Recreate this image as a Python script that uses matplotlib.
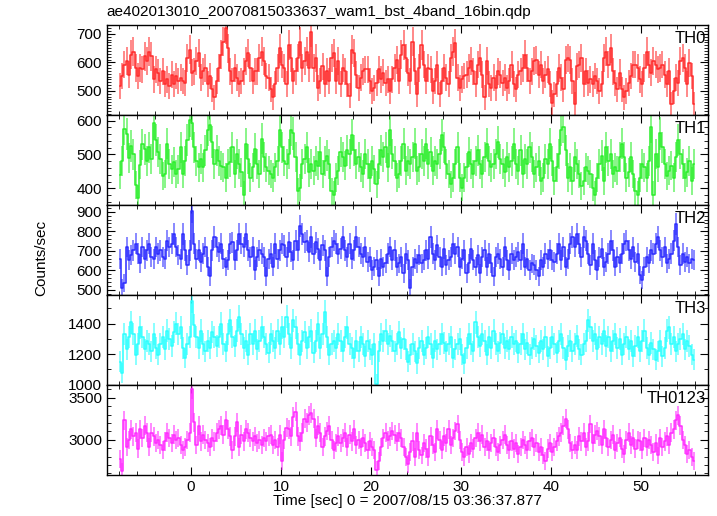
import numpy as np
import matplotlib.pyplot as plt
from matplotlib.ticker import MultipleLocator

plt.rcParams['font.family'] = ['Liberation Sans', 'DejaVu Sans']

# light curve, 0.25 s bins, time relative to 2007/08/15 03:36:37.877
bin_size = 0.25
t_start = -8.0

th0 = [517, 552, 592, 604, 557, 627, 638, 580, 552, 580,
       575, 621, 604, 638, 621, 540, 575, 563, 534, 569,
       523, 540, 517, 557, 523, 552, 534, 546, 534, 528,
       615, 644, 563, 569, 604, 633, 546, 569, 580, 523,
       552, 505, 477, 534, 580, 627, 673, 719, 650, 569,
       534, 580, 546, 523, 534, 569, 604, 633, 580, 534,
       569, 569, 615, 638, 604, 552, 546, 505, 477, 523,
       580, 650, 592, 580, 523, 661, 615, 534, 569, 615,
       673, 580, 604, 638, 580, 708, 580, 615, 511, 534,
       586, 523, 569, 534, 615, 633, 534, 604, 523, 580,
       569, 523, 482, 644, 633, 557, 511, 546, 569, 575,
       575, 534, 500, 511, 528, 575, 540, 563, 528, 540,
       500, 540, 580, 609, 534, 627, 661, 615, 563, 534,
       673, 569, 488, 580, 661, 592, 534, 580, 575, 500,
       534, 592, 488, 534, 580, 546, 523, 615, 638, 667,
       546, 511, 540, 552, 557, 580, 604, 569, 523, 592,
       615, 557, 477, 604, 523, 511, 546, 511, 569,
       557, 528, 546, 511, 534, 592, 523, 505, 557, 569,
       580, 627, 580, 534, 569, 604, 609, 557, 592, 534,
       557, 575, 523, 459, 488, 523, 580, 546, 505, 609,
       615, 609, 534, 453, 586, 592, 615, 523, 569, 528,
       540, 523, 552, 534, 500, 523, 615, 638, 592, 650,
       569, 528, 505, 563, 505, 477, 500, 528, 552, 592,
       592, 580, 540, 523, 580, 638, 592, 563, 604, 592,
       575, 580, 592, 557, 523, 569, 453, 500, 546, 528,
       604, 615, 580, 523, 598, 552, 453]

th1 = [440, 480, 575, 560, 490, 525, 500, 410, 372, 470, 530, 515,
       482, 522, 487, 592, 542, 507, 487, 437, 442, 532, 472, 457,
       477, 442, 457, 522, 442, 482, 542, 602,
       592, 522, 482, 462, 487, 462, 512, 572,
       587, 537, 472, 512, 482, 467, 462, 432,
       472, 477, 522, 442, 502, 472, 447, 382,
       532, 487, 432, 462, 517, 472, 442, 547,
       492, 462, 452, 442, 432, 462, 482, 572,
       522, 482, 472, 502, 572, 562, 492, 392,
       402, 472, 487, 522, 447, 472, 452, 482,
       467, 507, 442, 482, 497, 472, 392, 382,
       432, 452, 507, 492, 467, 512, 502, 557,
       512, 472, 492, 462, 442, 502, 472, 432,
       482, 457, 412, 472, 512, 492, 522, 462,
       572, 502, 482, 432, 442, 482, 532, 452,
       482, 472, 492, 532, 452, 462, 502, 482,
       532, 472, 507, 452, 482, 472, 502, 557,
       522, 472, 442, 412, 432, 472, 522, 432,
       402, 432, 462, 507, 472, 442, 482, 512,
       472, 442, 492, 532, 482, 462, 472, 502,
       537, 487, 472, 447, 492, 462, 482, 532,
       472, 452, 512, 442, 487, 472, 522, 492,
       442, 462, 482, 422, 432, 487, 472, 532,
       482, 422, 462, 502, 572, 582, 512, 432,
       462, 422, 492, 472, 442, 407, 422, 462,
       452, 442, 402, 382, 432, 472, 497, 422,
       522, 482, 502, 442, 462, 452, 492, 532,
       492, 432, 447, 492, 442, 392, 382, 432,
       472, 462, 432, 482, 582, 382, 502, 462,
       562, 522, 472, 437, 452, 467, 432, 492,
       542, 502, 472, 432, 447, 482, 422, 472]

th2 = [660, 509, 534, 719, 652, 677, 702, 736, 685, 635, 719, 660,
       702, 736, 668, 660, 719, 685, 702, 668, 660, 752, 719, 736,
       786, 719, 677, 660, 786, 702, 626, 702,
       904, 736, 660, 702, 643, 685, 719, 618,
       568, 702, 769, 719, 694, 736, 660, 618,
       652, 736, 744, 652, 702, 786, 736, 719,
       786, 702, 668, 719, 601, 668, 702, 685,
       668, 568, 660, 685, 618, 736, 660, 702,
       736, 727, 668, 744, 694, 652, 752, 702,
       828, 786, 744, 752, 694, 769, 685, 744,
       710, 652, 727, 702, 568, 668, 719, 752,
       736, 685, 710, 769, 702, 668, 736, 660,
       702, 769, 719, 685, 668, 719, 643, 668,
       601, 618, 652, 568, 660, 618, 635, 685,
       719, 652, 702, 618, 635, 668, 584, 685,
       652, 509, 618, 660, 635, 677, 635, 652,
       702, 660, 769, 685, 652, 727, 668, 618,
       710, 626, 652, 668, 736, 685, 719, 618,
       660, 702, 584, 635, 710, 652, 618, 677,
       584, 668, 702, 618, 685, 635, 568, 668,
       685, 660, 618, 719, 652, 601, 685, 652,
       668, 694, 652, 736, 618, 660, 601, 635,
       626, 601, 568, 652, 618, 685, 660, 702,
       652, 643, 685, 736, 652, 719, 618, 660,
       736, 769, 719, 786, 736, 668, 769, 752,
       685, 626, 736, 652, 601, 668, 710, 618,
       643, 685, 752, 702, 618, 668, 635, 685,
       736, 752, 702, 660, 719, 643, 685, 576,
       551, 618, 668, 635, 702, 685, 736, 769,
       702, 668, 719, 635, 660, 685, 752, 836,
       719, 626, 685, 643, 668, 635, 660, 652]

th3 = [1152, 1074, 1332, 1231, 1310, 1411, 1332, 1197, 1265, 1377, 1310, 1231,
       1287, 1265, 1220, 1332, 1242, 1197, 1265, 1310, 1231, 1355, 1299, 1254,
       1344, 1400, 1332, 1377, 1242, 1175, 1265, 1310,
       1546, 1389, 1310, 1242, 1355, 1265, 1220, 1287,
       1242, 1344, 1310, 1254, 1310, 1400, 1265, 1220,
       1332, 1422, 1310, 1254, 1355, 1445, 1332, 1242,
       1287, 1197, 1332, 1265, 1355, 1231, 1287, 1377,
       1310, 1265, 1209, 1332, 1287, 1242, 1355, 1265,
       1377, 1310, 1445, 1332, 1242, 1422, 1377, 1265,
       1197, 1287, 1344, 1242, 1310, 1355, 1209, 1287,
       1400, 1242, 1332, 1479, 1310, 1197, 1265, 1287,
       1242, 1332, 1287, 1220, 1310, 1377, 1265, 1242,
       1175, 1287, 1220, 1310, 1265, 1186, 1287, 1231,
       1197, 1265, 1006, 1220, 1332, 1287, 1355, 1265,
       1321, 1287, 1220, 1265, 1344, 1242, 1299, 1231,
       1152, 1197, 1265, 1220, 1141, 1242, 1287, 1197,
       1242, 1310, 1265, 1175, 1287, 1231, 1265, 1332,
       1276, 1220, 1265, 1310, 1175, 1231, 1265, 1299,
       1197, 1141, 1242, 1332, 1265, 1220, 1411, 1310,
       1254, 1332, 1287, 1197, 1310, 1242, 1355, 1265,
       1220, 1276, 1332, 1242, 1287, 1231, 1310, 1265,
       1287, 1209, 1265, 1332, 1231, 1276, 1197, 1242,
       1299, 1254, 1209, 1287, 1231, 1310, 1186, 1242,
       1310, 1265, 1209, 1287, 1332, 1242, 1164, 1254,
       1287, 1220, 1265, 1321, 1231, 1197, 1265, 1287,
       1422, 1377, 1287, 1332, 1231, 1310, 1265, 1355,
       1254, 1310, 1220, 1287, 1332, 1242, 1299, 1197,
       1265, 1310, 1231, 1287, 1186, 1254, 1310, 1220,
       1287, 1355, 1242, 1197, 1276, 1231, 1164, 1220,
       1287, 1186, 1242, 1355, 1377, 1265, 1310, 1220,
       1265, 1299, 1332, 1231, 1287, 1254, 1197, 1164]

th0123 = [2770, 2624, 3229, 2916, 3000, 3125, 3041, 3083, 2895, 3125,
          3020, 3166, 3083, 2916, 3083, 3041, 2958, 3000, 2937, 2874,
          2979, 3083, 3020, 2958, 3062, 3000, 3020, 2937, 2874, 2916,
          3000, 3083, 3604, 3208, 2937, 3166, 2979, 3062, 3000, 2958,
          2916, 3020, 2979, 3083, 3125, 3166, 3062, 3229, 3125, 3041,
          2874, 3041, 3208, 2916, 3062, 2979, 3125, 3083, 3020, 2979,
          3041, 2958, 3000, 2937, 3020, 2979, 3041, 3062, 2937, 3000,
          2916, 3062, 2749, 3000, 3145, 3125, 3041, 3271, 3333, 3041,
          2979, 3083, 3250, 3208, 3291, 3320, 3250, 3020, 3166,
          3083, 2916, 3041, 3104, 3166, 3000, 2874, 2958, 3041,
          2958, 3020, 3083, 2916, 3062, 2979, 3125, 2937, 3000,
          2916, 3020, 2958, 2874, 2979, 2916, 2874, 2645, 2749,
          2916, 3020, 3083, 3000, 3041, 3104, 3062, 2979, 3083,
          3020, 2916, 2791, 2708, 2853, 2979, 2791, 3083, 2874,
          2812, 2958, 2895, 2791, 3041, 2937, 2853, 3125, 3000,
          2874, 3041, 2958, 3125, 2937, 3020, 3104, 3187, 3000,
          2853, 2791, 2916, 2833, 2958, 2895, 3020, 3083, 2979,
          3062, 2916, 2979, 2874, 2958, 3020, 2916, 2853, 2937,
          3000, 3062, 2937, 2874, 2979, 2895, 2958, 2833, 2916,
          3000, 2937, 2874, 2979, 3020, 2916, 2958, 2853, 2916,
          2812, 2749, 2895, 2958, 2853, 2916, 2979, 3041, 3083,
          3166, 3250, 3125, 2958, 2874, 2937, 2874, 3041, 2979,
          3083, 2916, 2979, 3187, 2958, 3062, 3104, 3041, 2937,
          3125, 3020, 2916, 3000, 3062, 2874, 2958, 3020, 2895,
          2833, 3000, 3083, 2937, 3020, 2895, 3000,
          2979, 2874, 3020, 2916, 3000, 2937, 2853, 2958, 2812,
          3020, 2916, 2979, 3041, 2937, 3083, 3125, 3229, 3291,
          3166, 3000, 2937, 2833, 2874, 2791, 2749]

names = ['TH0', 'TH1', 'TH2', 'TH3', 'TH0123']
series = [th0, th1, th2, th3, th0123]
colors = ['#ff2a2a', '#2aee2a', '#2a2aff', '#2affff', '#ff2aff']
ylims = [(416, 732), (352, 617), (474, 936), (1000, 1590), (2583, 3655)]
major = [100, 100, 100, 200, 500]
minor = [10, 20, 20, 100, 100]

fig = plt.figure(figsize=(7.17, 5.16), dpi=100)
gs = fig.add_gridspec(5, 1, left=0.149, right=0.987, top=0.952, bottom=0.080, hspace=0)

for i in range(5):
    ax = fig.add_subplot(gs[i])
    rate = np.array(series[i], dtype=float)
    t = t_start + bin_size * (np.arange(rate.size) + 0.5)
    err = np.sqrt(rate * bin_size) / bin_size  # poisson error
    c = colors[i]
    ax.errorbar(t, rate, yerr=err, fmt='none', ecolor=c, elinewidth=1.3, alpha=0.6)
    ax.step(t, rate, where='mid', color=c, lw=1.1)
    ax.set_xlim(-9.33, 57.4)
    ax.set_ylim(*ylims[i])
    ax.xaxis.set_major_locator(MultipleLocator(10))
    ax.xaxis.set_minor_locator(MultipleLocator(2))
    ax.yaxis.set_major_locator(MultipleLocator(major[i]))
    ax.yaxis.set_minor_locator(MultipleLocator(minor[i]))
    ax.tick_params(which='both', direction='in', top=True, right=True, labelsize=11)
    ax.tick_params(which='major', length=6)
    ax.tick_params(which='minor', length=3)
    for s in ax.spines.values():
        s.set_linewidth(1.0)
    ax.text(0.997, 0.93, names[i], transform=ax.transAxes, ha='right', va='top', fontsize=12)
    if i < 4:
        ax.tick_params(labelbottom=False)
    else:
        ax.set_xlabel('Time [sec] 0 = 2007/08/15 03:36:37.877', fontsize=11, labelpad=0)

fig.text(0.058, 0.5, 'Counts/sec', rotation=90, ha='center', va='center', fontsize=11)
fig.text(0.149, 0.977, 'ae402013010_20070815033637_wam1_bst_4band_16bin.qdp',
         ha='left', va='center', fontsize=11)

fig.savefig('out.png', dpi=100)
